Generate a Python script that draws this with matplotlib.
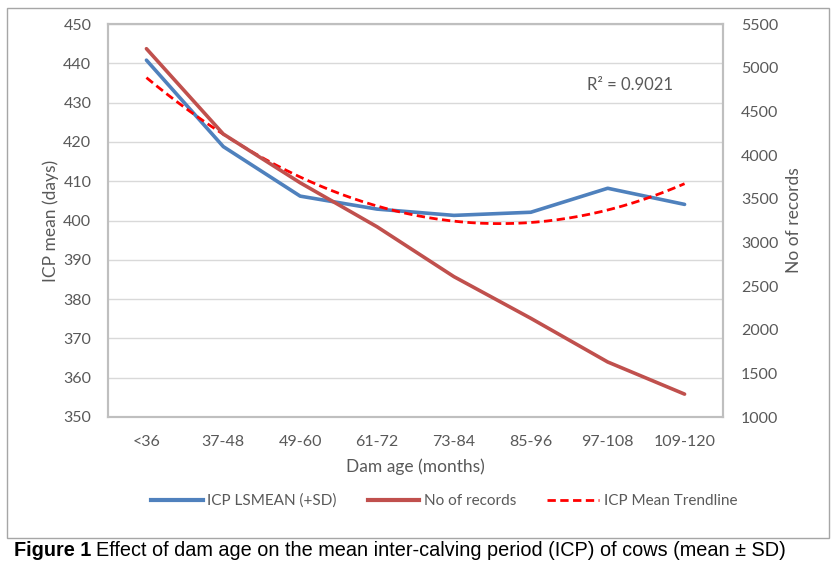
import numpy as np
import matplotlib
matplotlib.use('Agg')
import matplotlib.pyplot as plt
from matplotlib.patches import Rectangle
from matplotlib.lines import Line2D

plt.rcParams['font.family'] = ['Lato', 'DejaVu Sans']

# data
age_groups = ['<36', '37-48', '49-60', '61-72', '73-84', '85-96', '97-108', '109-120']
icp_lsmean = [440.8, 418.8, 406.2, 402.9, 401.3, 402.1, 408.2, 404.1]
n_records = [5217, 4240, 3682, 3178, 2607, 2130, 1630, 1262]
r2_text = 'R² = 0.9021'

grey = '#595959'
blue = '#4F81BD'
red = '#C0504D'

fig = plt.figure(figsize=(8.38, 5.74), dpi=100)
W, H = 838, 574

# outer chart border
fig.patches.append(Rectangle((7 / W, 1 - 538 / H), 822 / W, 530 / H, transform=fig.transFigure,
                             fill=False, edgecolor='#A6A6A6', lw=1))

ax = fig.add_axes([108 / W, 1 - 417 / H, 615 / W, 393 / H])
ax2 = ax.twinx()

x = np.arange(len(age_groups))

# quadratic trendline of the ICP mean (as in the spreadsheet)
coef = np.polyfit(x, icp_lsmean, 2)
xs = np.linspace(x[0], x[-1], 200)
trend = np.polyval(coef, xs)

ax.plot(x, icp_lsmean, color=blue, lw=2.6, solid_capstyle='round', zorder=3)
ax.plot(xs, trend, color='#FF0000', lw=2, ls=(0, (3, 1.6)), zorder=4)
ax2.plot(x, n_records, color=red, lw=2.6, solid_capstyle='round', zorder=3)

ax.set_xlim(-0.5, len(age_groups) - 0.5)
ax.set_ylim(350, 450)
ax.set_yticks(np.arange(350, 451, 10))
ax2.set_ylim(1000, 5500)
ax2.set_yticks(np.arange(1000, 5501, 500))
ax.set_xticks(x)
ax.set_xticklabels(age_groups)
ax.grid(axis='y', color='#D9D9D9', lw=1)
ax.set_axisbelow(True)

for a in (ax, ax2):
    a.tick_params(length=0, labelsize=11.5, colors=grey)
    for s in a.spines.values():
        s.set_color('#BFBFBF')
        s.set_linewidth(1.5)
ax.tick_params(axis='y', pad=12)
ax.tick_params(axis='x', pad=13)
ax2.tick_params(axis='y', pad=13)

ax.set_xlabel('Dam age (months)', fontsize=12.5, color=grey, labelpad=7)
ax.set_ylabel('ICP mean (days)', fontsize=12.5, color=grey, labelpad=3)
ax2.set_ylabel('No of records', fontsize=12.5, color=grey, labelpad=5)

ax.text(0.779, 0.832, r2_text, transform=ax.transAxes, fontsize=12, color=grey)

handles = [Line2D([], [], color=blue, lw=3),
           Line2D([], [], color=red, lw=3),
           Line2D([], [], color='#FF0000', lw=2, ls=(0, (3, 1.6)))]
fig.legend(handles, ['ICP LSMEAN (+SD)', 'No of records', 'ICP Mean Trendline'],
           loc='center', bbox_to_anchor=(444 / W, 1 - 501 / H), ncol=3, frameon=False,
           fontsize=11, labelcolor=grey, handlelength=3.4, columnspacing=2.0, handletextpad=0.3)

t1 = fig.text(14 / W, 1 - 551 / H, 'Figure 1', fontsize=14.3, fontweight='bold',
              family='Liberation Sans', va='center', ha='left')
fig.canvas.draw()
bb = t1.get_window_extent()
fig.text((bb.x1 + 5) / W, 1 - 551 / H,
         'Effect of dam age on the mean inter-calving period (ICP) of cows (mean ± SD)',
         fontsize=14.3, family='Liberation Sans', va='center', ha='left')

fig.savefig('out.png', dpi=100)
